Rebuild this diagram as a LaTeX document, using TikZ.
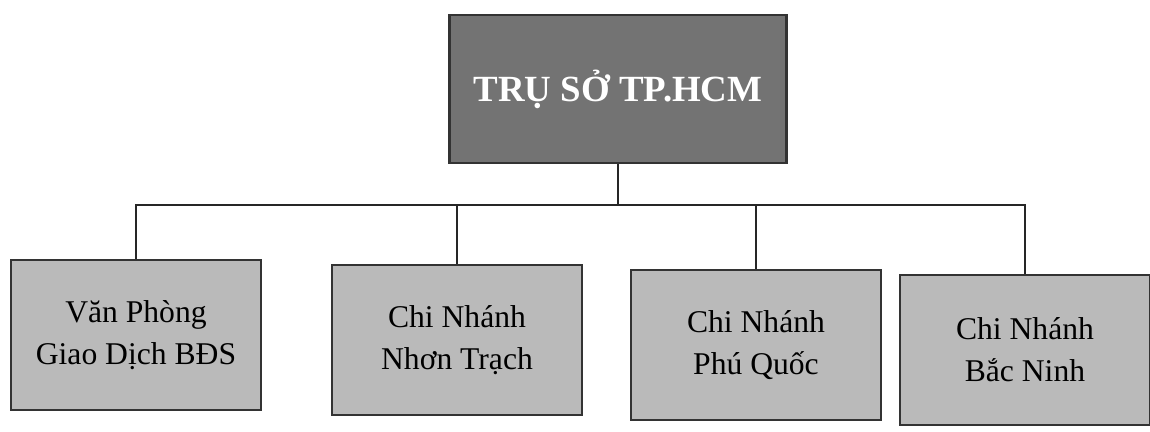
\documentclass[tikz,border=0pt]{standalone}
\usepackage{fontspec}
\setmainfont{Liberation Serif}

\begin{document}
\begin{tikzpicture}
                \tikzset{x=1cm, y=1cm}
                \tikzstyle{head}=[rectangle, draw=black!80, line width=1.6pt, fill=black!55, text=white, font=\bfseries\fontsize{21}{25}\selectfont, minimum width=6.74cm, minimum height=2.96cm]
                \tikzstyle{branch}=[rectangle, draw=black!80, line width=1.6pt, fill=black!27, align=center, font=\fontsize{18}{24}\selectfont, minimum width=5cm, minimum height=3cm]
                \tikzstyle{link}=[draw=black!85, line width=1.2pt]

                \useasboundingbox (0,0) rectangle (23,-8.62);

                \draw (12.36, -1.78)  node[head]     (hq)    {TRỤ SỞ TP.HCM};

                \draw (2.72, -6.7)    node[branch]   (vp)    {Văn Phòng\\Giao Dịch BĐS};
                \draw (9.14, -6.8)    node[branch]   (nt)    {Chi Nhánh\\Nhơn Trạch};
                \draw (15.12, -6.9)   node[branch]   (pq)    {Chi Nhánh\\Phú Quốc};
                \draw (20.5, -7.0)    node[branch]   (bn)    {Chi Nhánh\\Bắc Ninh};

                \coordinate (bus) at (0, -4.1);

                \draw [link]          (hq.south) -- (hq.south |- bus);
                \draw [link]          (vp.north) -- (vp.north |- bus) -- (bn.north |- bus) -- (bn.north);
                \draw [link]          (nt.north) -- (nt.north |- bus);
                \draw [link]          (pq.north) -- (pq.north |- bus);
            \end{tikzpicture}
\end{document}
